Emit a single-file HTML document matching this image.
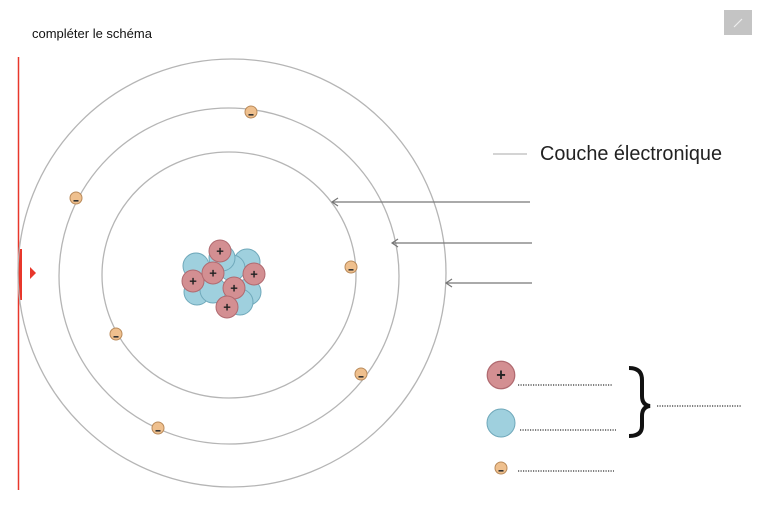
<!DOCTYPE html>
<html><head><meta charset="utf-8"><style>
html,body{margin:0;padding:0;background:#fff;width:768px;height:527px;overflow:hidden;font-family:"Liberation Sans",sans-serif}
</style></head><body>
<svg width="768" height="527" viewBox="0 0 768 527" xmlns="http://www.w3.org/2000/svg">
<defs>
<g id="p"><circle r="11" fill="#d38f92" stroke="#b06a70" stroke-width="1"/><text y="4.5" text-anchor="middle" font-size="13" font-weight="bold" fill="#222" font-family="Liberation Sans">+</text></g>
<g id="n"><circle r="13" fill="#9fd0de" stroke="#6fa8ba" stroke-width="1"/></g>
<g id="e"><circle r="6" fill="#efc08e" stroke="#b98a5a" stroke-width="1"/><rect x="-2.5" y="2" width="5" height="1.6" fill="#333"/></g>
</defs>
<text x="32" y="38" font-size="13" fill="#111">compléter le schéma</text>
<rect x="724" y="10" width="28" height="25" fill="#c4c4c4"/>
<line x1="734" y1="27" x2="742" y2="19" stroke="#eee" stroke-width="1.2"/>
<line x1="18.5" y1="57" x2="18.5" y2="490" stroke="#e8372b" stroke-width="1.5"/>
<rect x="18" y="249" width="4" height="51" fill="#e8372b"/>
<polygon points="30,267 30,279 36,273" fill="#e8372b"/>
<g fill="none" stroke="#b5b5b5" stroke-width="1.3">
<ellipse cx="229" cy="275" rx="127" ry="123"/>
<ellipse cx="229" cy="276" rx="170" ry="168"/>
<ellipse cx="232" cy="273" rx="214" ry="214"/>
</g>
<g stroke="#777" stroke-width="1.2" fill="none">
<line x1="332" y1="202" x2="530" y2="202"/><polyline points="338,198 332,202 338,206"/>
<line x1="392" y1="243" x2="532" y2="243"/><polyline points="398,239 392,243 398,247"/>
<line x1="446" y1="283" x2="532" y2="283"/><polyline points="452,279 446,283 452,287"/>
</g>
<line x1="493" y1="154" x2="527" y2="154" stroke="#bbb" stroke-width="1.3"/>
<text x="540" y="160" font-size="20" fill="#222" textLength="182" lengthAdjust="spacingAndGlyphs">Couche électronique</text>
<use href="#n" x="196" y="266"/><use href="#n" x="247" y="262"/><use href="#n" x="197" y="292"/>
<use href="#n" x="248" y="292"/><use href="#n" x="232" y="268"/><use href="#n" x="213" y="290"/>
<use href="#n" x="240" y="302"/><use href="#n" x="222" y="258"/>
<use href="#p" x="220" y="251"/><use href="#p" x="193" y="281"/><use href="#p" x="254" y="274"/>
<use href="#p" x="213" y="273"/><use href="#p" x="234" y="288"/><use href="#p" x="227" y="307"/>
<use href="#e" x="251" y="112"/><use href="#e" x="76" y="198"/><use href="#e" x="351" y="267"/>
<use href="#e" x="116" y="334"/><use href="#e" x="361" y="374"/><use href="#e" x="158" y="428"/>
<use href="#p" x="501" y="375" transform="translate(-125.25 -93.75) scale(1.25)"/>
<circle cx="501" cy="423" r="14" fill="#9fd0de" stroke="#6fa8ba"/>
<use href="#e" x="501" y="468"/>
<g stroke="#333" stroke-width="1.2" stroke-dasharray="1.2 1.3">
<line x1="518" y1="385" x2="613" y2="385"/>
<line x1="520" y1="430" x2="616" y2="430"/>
<line x1="518" y1="471" x2="614" y2="471"/>
<line x1="657" y1="406" x2="741" y2="406"/>
</g>
<path d="M629 368 Q642 368 642 380 L642 396 Q642 405 650 406 Q642 407 642 416 L642 426 Q642 436 629 436" fill="none" stroke="#111" stroke-width="4"/>
</svg>
</body></html>
